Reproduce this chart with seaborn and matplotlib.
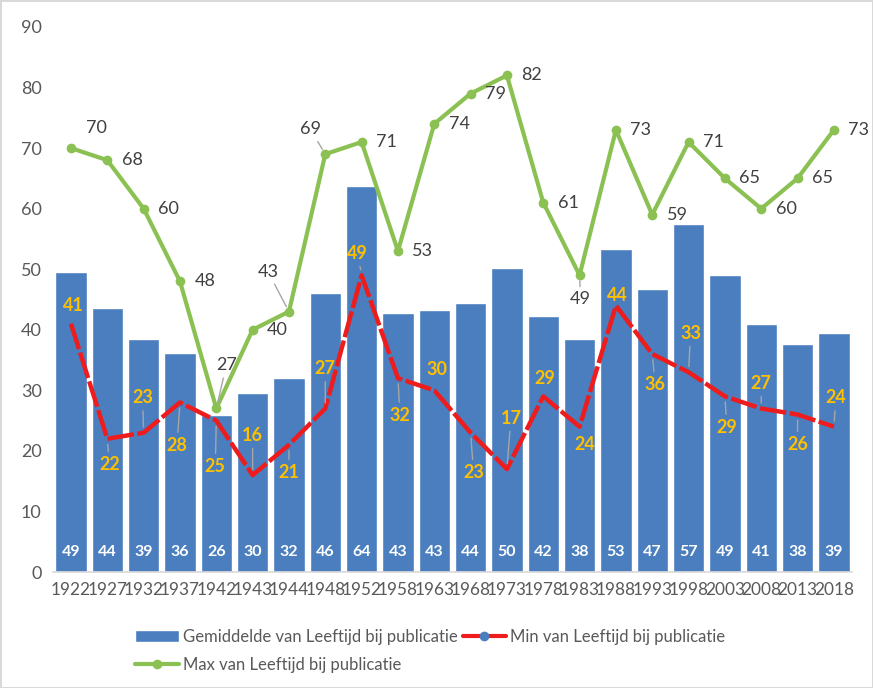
import numpy as np
import pandas as pd
import seaborn as sns
import matplotlib.pyplot as plt
from matplotlib.lines import Line2D
from matplotlib.patches import Patch

# --- data ---
years = [1922, 1927, 1932, 1937, 1942, 1943, 1944, 1948, 1952, 1958, 1963,
         1968, 1973, 1978, 1983, 1988, 1993, 1998, 2003, 2008, 2013, 2018]
gem_vals = [49.5, 43.6, 38.5, 36.2, 26.0, 29.6, 32.1, 46.1, 63.7, 42.8, 43.3,
            44.4, 50.2, 42.2, 38.5, 53.3, 46.8, 57.5, 49.1, 41.0, 37.6, 39.4]
gem_labels = [49, 44, 39, 36, 26, 30, 32, 46, 64, 43, 43,
              44, 50, 42, 38, 53, 47, 57, 49, 41, 38, 39]
min_vals = [41, 22, 23, 28, 25, 16, 21, 27, 49, 32, 30,
            23, 17, 29, 24, 44, 36, 33, 29, 27, 26, 24]
max_vals = [70, 68, 60, 48, 27, 40, 43, 69, 71, 53, 74,
            79, 82, 61, 49, 73, 59, 71, 65, 60, 65, 73]

# label offsets in pixels (dx, dy up)
min_offsets = [(2, 18), (2, -26), (-1, 35), (-3, -43), (-1, -46), (0, 40), (0, -28),
               (0, 40), (-4, 22), (2, -37), (3, 21), (3, -40), (4, 51), (1, 18),
               (5, -18), (1, 10), (3, -31), (2, 39), (2, -31), (0, 25), (0, -30), (2, 29)]
max_offsets = [(25, 0)] * len(years)
max_offsets[0] = (25, 20)
max_offsets[4] = (10, 43)
max_offsets[6] = (-21, 40)
max_offsets[7] = (-15, 25)
max_offsets[14] = (1, -24)
max_leader = {4, 6, 7, 14}

BLUE = '#4A7EBE'
RED = '#EE1C1C'
GREEN = '#8BC152'
GOLD = '#FFC000'
GREY = '#595959'

sns.set_style("white")
plt.rcParams['font.family'] = ['Lato', 'DejaVu Sans']

fig = plt.figure(figsize=(8.73, 6.88), dpi=100, edgecolor='#D9D9D9', linewidth=2)
ax = fig.add_axes([0.0605, 0.1686, 0.9155, 0.7922])

df = pd.DataFrame({'jaar': [str(y) for y in years], 'gem': gem_vals})
sns.barplot(data=df, x='jaar', y='gem', color=BLUE, saturation=1, width=0.86, ax=ax)

pos = np.arange(len(years))
sns.lineplot(x=pos, y=min_vals, color=RED, lw=3.2, ax=ax)
ax.lines[-1].set_linestyle((0, (6, 0.8)))
sns.lineplot(x=pos, y=max_vals, color=GREEN, lw=3, marker='o', markersize=7,
             markeredgewidth=0, ax=ax)

# bar labels
for i, v in enumerate(gem_labels):
    ax.annotate(str(v), (i, 0), xytext=(0, 20), textcoords='offset pixels',
                ha='center', va='center', color='white', fontsize=11.5, fontweight='bold')

# min labels
for i, v in enumerate(min_vals):
    dx, dy = min_offsets[i]
    props = None
    if abs(dy) >= 22:
        props = dict(arrowstyle='-', color='#A6A6A6', lw=1, shrinkA=1, shrinkB=4)
    ax.annotate(str(v), (i, v), xytext=(dx, dy), textcoords='offset pixels',
                ha='center', va='center', color=GOLD, fontsize=13, fontweight='bold',
                arrowprops=props)

# max labels
for i, v in enumerate(max_vals):
    dx, dy = max_offsets[i]
    props = None
    if i in max_leader:
        props = dict(arrowstyle='-', color='#A6A6A6', lw=1, shrinkA=1, shrinkB=4)
    ax.annotate(str(v), (i, v), xytext=(dx, dy), textcoords='offset pixels',
                ha='center', va='center', color='#404040', fontsize=13,
                arrowprops=props)

ax.set_xlim(-0.5, len(years) - 0.5)
ax.set_ylim(0, 90)
ax.set_yticks(range(0, 91, 10))
ax.set_xlabel('')
ax.set_ylabel('')
ax.tick_params(axis='both', length=0, labelsize=13, labelcolor=GREY)
ax.tick_params(axis='x', labelsize=12.4, pad=7)
ax.tick_params(axis='y', pad=8)
for s in ['top', 'right', 'left']:
    ax.spines[s].set_visible(False)
ax.spines['bottom'].set_color('#D9D9D9')
ax.spines['bottom'].set_linewidth(1.2)

handles = [
    Patch(facecolor=BLUE, label='Gemiddelde van Leeftijd bij publicatie'),
    Line2D([], [], color=GREEN, lw=3, marker='o', markersize=7, markeredgewidth=0,
           label='Max van Leeftijd bij publicatie'),
    Line2D([], [], color=RED, lw=3, marker='o', markersize=7, markeredgewidth=0,
           markerfacecolor=BLUE, label='Min van Leeftijd bij publicatie'),
]
fig.legend(handles=handles, ncol=2, loc='upper left', bbox_to_anchor=(0.138, 0.108),
           frameon=False, fontsize=12, labelcolor=GREY, handlelength=2.6,
           handletextpad=0.25, columnspacing=0.3, labelspacing=0.75)

fig.savefig('out.png', dpi=100, edgecolor=fig.get_edgecolor())
